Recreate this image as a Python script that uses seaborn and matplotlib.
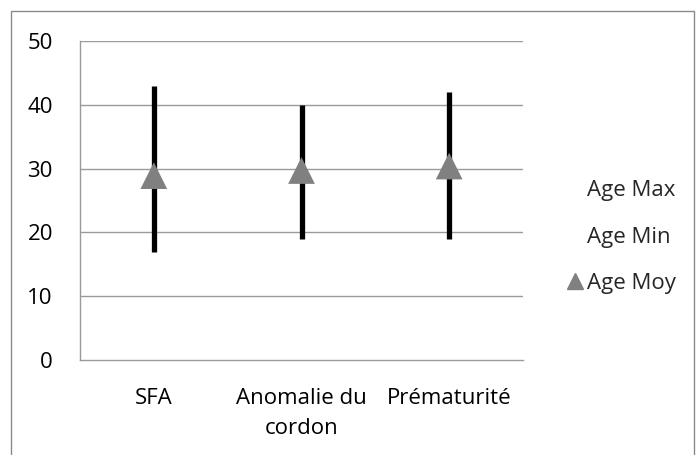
import matplotlib
matplotlib.use("Agg")
import matplotlib.pyplot as plt
from matplotlib.patches import Rectangle
from matplotlib.lines import Line2D
import seaborn as sns
import pandas as pd

categories = ["SFA", "Anomalie du\ncordon", "Prématurité"]
age_max = [43, 40, 42]
age_min = [17, 19, 19]
age_moy = [28.9, 29.7, 30.4]
y_ticks = [0, 10, 20, 30, 40, 50]

sns.set_theme(style="white")
plt.rcParams["font.family"] = ["Open Sans", "DejaVu Sans"]

df = pd.DataFrame({"cat": categories, "max": age_max, "min": age_min, "moy": age_moy})
df["pos"] = range(len(df))

fig = plt.figure(figsize=(7, 4.55), dpi=100)
ax = fig.add_axes([80 / 700, 1 - 360 / 455, (523 - 80) / 700, (360 - 41) / 455])

grid_c = "#9a9a9a"
fs = 16
for v in y_ticks[1:]:
    ax.axhline(v, color=grid_c, lw=1.0, zorder=0)

# high-low lines
ax.vlines(df["pos"], df["min"], df["max"], color="black", lw=3.8, zorder=2)

# mean markers
sns.scatterplot(data=df, x="pos", y="moy", marker="^", s=370, color="#808080",
                edgecolor="none", ax=ax, zorder=3, legend=False)

ax.set_xlim(-0.5, 2.5)
ax.set_ylim(0, 50)
ax.set_yticks(y_ticks)
ax.set_yticklabels([str(v) for v in y_ticks])
ax.set_xticks(df["pos"])
ax.set_xticklabels(categories, linespacing=1.55)
ax.set_xticks([-0.5, 0.5, 1.5, 2.5], minor=True)
ax.tick_params(axis="x", which="major", length=0, pad=20, labelsize=fs, colors="black")
ax.tick_params(axis="x", which="minor", length=6.5, width=1.0, color=grid_c, direction="out")
ax.tick_params(axis="y", length=6.5, width=1.0, color=grid_c, direction="out", pad=13,
               labelsize=fs, colors="black")
ax.tick_params(axis="y", colors="black", color=grid_c)
ax.set_xlabel("")
ax.set_ylabel("")

for side in ["top", "right"]:
    ax.spines[side].set_visible(False)
for side in ["left", "bottom"]:
    ax.spines[side].set_color(grid_c)
    ax.spines[side].set_linewidth(1.0)

# legend
handles = [
    Line2D([], [], linestyle="none", marker=None),
    Line2D([], [], linestyle="none", marker=None),
    Line2D([], [], linestyle="none", marker="^", markersize=12, color="#808080"),
]
fig.legend(handles, ["Age Max", "Age Min", "Age Moy"], loc="center left",
           bbox_to_anchor=(547 / 700, 1 - 237 / 455), frameon=False, fontsize=fs,
           handlelength=0.7, handletextpad=0.2, labelspacing=1.15)

# outer frame
fig.patches.append(Rectangle((11 / 700, -0.02), (694 - 11) / 700, 1 - 11 / 455 + 0.02,
                             transform=fig.transFigure, fill=False, edgecolor="#8a8a8a",
                             lw=1.0, zorder=-1))

fig.savefig("out.png", dpi=100)
